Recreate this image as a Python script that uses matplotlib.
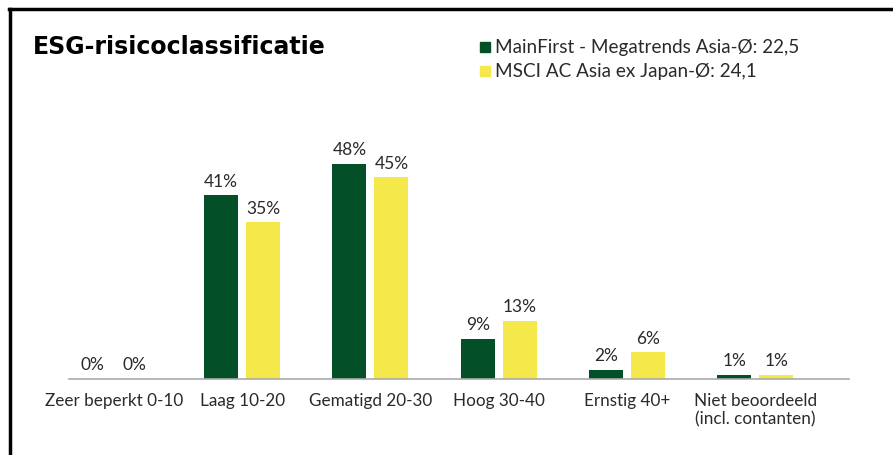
import matplotlib.pyplot as plt
from matplotlib.lines import Line2D
from matplotlib.patches import Rectangle
import numpy as np

plt.rcParams['font.family'] = ['Lato', 'DejaVu Sans']

# Datos
categorias = ["Zeer beperkt 0-10", "Laag 10-20", "Gematigd 20-30", "Hoog 30-40",
              "Ernstig 40+", "Niet beoordeeld\n(incl. contanten)"]
fondo = [0, 41, 48, 9, 2, 1]
indice = [0, 35, 45, 13, 6, 1]
nombre_fondo = "MainFirst - Megatrends Asia-Ø: 22,5"
nombre_indice = "MSCI AC Asia ex Japan-Ø: 24,1"

verde = "#034f28"
amarillo = "#f5e84a"
texto = "#2a2a2a"

W, H = 893, 455
fig = plt.figure(figsize=(W / 100, H / 100), dpi=100)

# ejes en pixeles: izquierda 69, derecha 849, base 379, arriba 100
ax = fig.add_axes([69 / W, (H - 379) / H, (849 - 69) / W, (379 - 100) / H])

x = np.arange(len(categorias))
ancho = 34 / 128.3
sep = 21 / 128.3
b1 = ax.bar(x - sep, fondo, ancho, color=verde)
b2 = ax.bar(x + sep, indice, ancho, color=amarillo)

for barras, vals in ((b1, fondo), (b2, indice)):
    for b, v in zip(barras, vals):
        ax.annotate(f"{v}%", (b.get_x() + b.get_width() / 2, v),
                    xytext=(0, 4), textcoords="offset points",
                    ha="center", va="bottom", fontsize=12.5, color=texto)

ax.set_xlim(-0.35, 5.73)
ax.set_ylim(0, (379 - 100) / 4.48)
ax.set_xticks(x)
ax.set_xticklabels(categorias, fontsize=12.3, color=texto, va="top",
                   linespacing=1.2)
ax.tick_params(axis="x", length=0, pad=10)
ax.set_yticks([])
for s in ["top", "right", "left"]:
    ax.spines[s].set_visible(False)
ax.spines["bottom"].set_color("#aaaaaa")
ax.spines["bottom"].set_linewidth(1.2)

# Titulo
fig.text(33 / W, 1 - 47 / H, "ESG-risicoclassificatie", fontsize=17,
         fontweight="bold", va="center", ha="left", color="black",
         family="DejaVu Sans")

# Leyenda manual
for i, (nombre, color) in enumerate(((nombre_fondo, verde), (nombre_indice, amarillo))):
    yc = 47 + i * 24
    fig.patches.append(Rectangle((480 / W, 1 - (yc + 5) / H), 10 / W, 10 / H,
                                 transform=fig.transFigure, color=color))
    fig.text(495 / W, 1 - yc / H, nombre, fontsize=13.6, va="center",
             ha="left", color=texto)

# Marco
fig.add_artist(Line2D([9.5 / W, 9.5 / W], [0, 1 - 8.5 / H], color="black",
                      linewidth=2.5, transform=fig.transFigure))
fig.add_artist(Line2D([8.5 / W, 1], [1 - 8.5 / H, 1 - 8.5 / H], color="black",
                      linewidth=2.5, transform=fig.transFigure))

plt.savefig("out.png", dpi=100)
